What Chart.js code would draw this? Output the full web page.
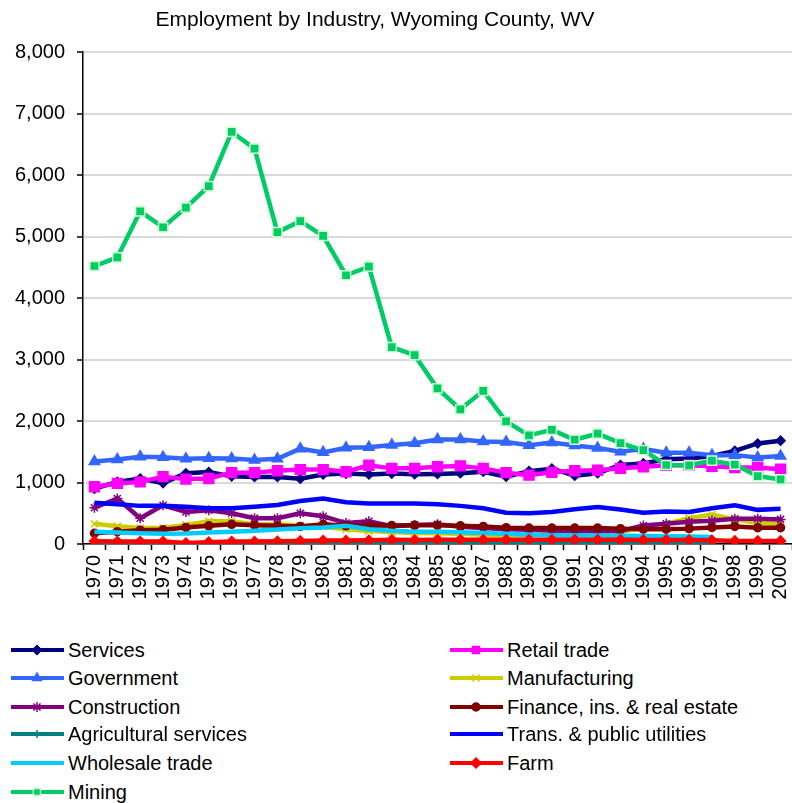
<!DOCTYPE html>
<html>
<head>
<meta charset="utf-8">
<title>Employment by Industry, Wyoming County, WV</title>
<script src="https://cdn.jsdelivr.net/npm/chart.js@4.4.1/dist/chart.umd.min.js"></script>
<style>
  body { margin: 0; background: #fff; font-family: Arial, "Liberation Sans", sans-serif; }
  #wrap { position: relative; width: 792px; height: 803px; overflow: hidden; }
  #title { position: absolute; top: 7px; left: 0; width: 750px; text-align: center; font-size: 21px; line-height: 24px; color: #000; }
  .item { position: absolute; height: 28px; line-height: 28px; font-size: 20px; color: #000; white-space: nowrap; }
  .item canvas { vertical-align: top; margin-right: 3px; }
</style>
</head>
<body>
<div id="wrap">
  <div id="title">Employment by Industry, Wyoming County, WV</div>
  <canvas id="chart" width="792" height="620"></canvas>
  <div id="legend"></div>
</div>
<script>
// Categories
const years = ["1970","1971","1972","1973","1974","1975","1976","1977","1978","1979",
  "1980","1981","1982","1983","1984","1985","1986","1987","1988","1989",
  "1990","1991","1992","1993","1994","1995","1996","1997","1998","1999","2000"];

// Series values (jobs)
const services = [900, 1010, 1065, 990, 1150, 1170, 1100, 1090, 1090, 1060,
  1130, 1145, 1130, 1145, 1135, 1140, 1150, 1175, 1095, 1185,
  1225, 1110, 1150, 1285, 1310, 1380, 1390, 1430, 1515, 1635, 1680];
const retailTrade = [930, 985, 1010, 1095, 1055, 1065, 1160, 1160, 1190, 1210,
  1210, 1175, 1280, 1230, 1230, 1255, 1270, 1230, 1160, 1120,
  1165, 1190, 1200, 1230, 1255, 1280, 1280, 1265, 1245, 1245, 1215];
const government = [1340, 1375, 1420, 1410, 1385, 1395, 1390, 1365, 1385, 1550,
  1490, 1565, 1575, 1610, 1640, 1700, 1700, 1665, 1660, 1605,
  1650, 1600, 1560, 1500, 1545, 1485, 1485, 1445, 1445, 1405, 1430];
const manufacturing = [330, 290, 260, 265, 310, 370, 370, 320, 320, 300,
  280, 240, 210, 195, 180, 175, 165, 150, 140, 145,
  160, 165, 175, 200, 255, 330, 420, 480, 400, 340, 330];
const construction = [590, 740, 420, 630, 520, 550, 500, 420, 420, 500,
  450, 340, 370, 290, 310, 320, 280, 260, 240, 230,
  220, 210, 210, 210, 300, 330, 360, 380, 410, 410, 400];
const finance = [175, 200, 225, 230, 270, 295, 320, 305, 295, 285,
  320, 295, 295, 300, 305, 305, 295, 285, 265, 260,
  260, 260, 260, 250, 240, 240, 250, 270, 285, 265, 265];
const agServices = [10, 10, 10, 10, 10, 10, 12, 12, 12, 12,
  15, 15, 15, 15, 15, 15, 15, 15, 15, 15,
  15, 15, 15, 15, 15, 15, 15, 15, null, null, null];
const transUtilities = [670, 645, 620, 620, 605, 580, 580, 605, 635, 700,
  740, 680, 660, 660, 660, 645, 620, 580, 510, 500,
  520, 565, 600, 560, 510, 530, 520, 580, 630, 555, 575];
const wholesaleTrade = [200, 185, 175, 165, 170, 185, 200, 215, 235, 255,
  270, 295, 240, 215, 200, 200, 190, 180, 165, 150,
  140, 140, 140, 135, 130, 125, 120, 115, null, null, null];
const farm = [45, 40, 40, 40, 15, 30, 40, 40, 45, 50,
  55, 55, 60, 70, 65, 70, 70, 70, 70, 70,
  70, 70, 70, 70, 65, 65, 65, 60, 50, 50, 50];
const mining = [4520, 4660, 5410, 5150, 5470, 5820, 6700, 6430, 5070, 5250,
  5010, 4370, 4510, 3200, 3070, 2530, 2190, 2490, 1995, 1765,
  1855, 1695, 1795, 1640, 1525, 1285, 1280, 1355, 1290, 1105, 1050];

// Series in legend order (row by row, two columns)
const series = [
  { label: "Services", data: services, color: "#000080", style: "rectRot", r: 4.5 },
  { label: "Retail trade", data: retailTrade, color: "#FF00FF", style: "rect", r: 7 },
  { label: "Government", data: government, color: "#3366FF", style: "triangle", r: 6 },
  { label: "Manufacturing", data: manufacturing, color: "#CCCC00", style: "crossRot", r: 5 },
  { label: "Construction", data: construction, color: "#800080", style: "star", r: 5 },
  { label: "Finance, ins. & real estate", data: finance, color: "#800000", style: "circle", r: 4 },
  { label: "Agricultural services", data: agServices, color: "#008080", style: "cross", r: 4 },
  { label: "Trans. & public utilities", data: transUtilities, color: "#0000FF", style: false, r: 0 },
  { label: "Wholesale trade", data: wholesaleTrade, color: "#00CCFF", style: false, r: 0 },
  { label: "Farm", data: farm, color: "#FF0000", style: "rectRot", r: 5 },
  { label: "Mining", data: mining, color: "#00CC66", style: "rect", r: 6.5, edge: "#CCFFCC" }
];

const datasets = series.map((s, i) => ({
  label: s.label,
  data: s.data,
  borderColor: s.color,
  backgroundColor: s.color,
  borderWidth: 4.5,
  tension: 0,
  pointStyle: s.style || "circle",
  pointRadius: s.r,
  pointHoverRadius: s.r,
  pointBackgroundColor: s.color,
  pointBorderColor: s.edge || s.color,
  pointBorderWidth: 1.5,
  spanGaps: false,
  order: series.length - i   // later series drawn on top, like the original
}));

new Chart(document.getElementById("chart"), {
  type: "line",
  data: { labels: years, datasets: datasets },
  options: {
    responsive: false,
    animation: false,
    devicePixelRatio: 1,
    layout: { autoPadding: false, padding: { top: 52, right: 0, bottom: 0, left: 0 } },
    plugins: {
      legend: { display: false },
      title: { display: false },
      tooltip: { enabled: false }
    },
    scales: {
      x: {
        offset: true,
        grid: { drawOnChartArea: false, offset: true, tickLength: 6, tickColor: "#000", tickWidth: 1.5 },
        border: { color: "#000", width: 1.5 },
        ticks: {
          color: "#000", minRotation: 90, maxRotation: 90, autoSkip: false, padding: 5,
          font: { family: "Arial, 'Liberation Sans'", size: 20 }
        },
        afterFit: s => { s.height = 76; s.paddingLeft = 0; s.paddingRight = 0; }
      },
      y: {
        min: 0, max: 8000,
        grid: { color: "#d9d9d9", lineWidth: 2, tickLength: 6, tickColor: "#000", tickWidth: 1.5 },
        border: { color: "#000", width: 1.5 },
        ticks: {
          stepSize: 1000, color: "#000", padding: 12,
          font: { family: "Arial, 'Liberation Sans'", size: 20 },
          callback: v => v.toLocaleString("en-US")
        },
        afterFit: s => { s.width = 83; }
      }
    }
  }
});

// Two-column legend under the chart
const legendRows = [650, 678, 707, 734, 763, 792];
const legendCols = [9, 448];
const legend = document.getElementById("legend");
series.forEach((s, i) => {
  const item = document.createElement("div");
  item.className = "item";
  item.style.left = legendCols[i % 2] + "px";
  item.style.top = (legendRows[Math.floor(i / 2)] - 14) + "px";
  const c = document.createElement("canvas");
  c.width = 56; c.height = 28;
  const ctx = c.getContext("2d");
  ctx.strokeStyle = s.color;
  ctx.lineWidth = 4;
  ctx.beginPath(); ctx.moveTo(2, 14); ctx.lineTo(55, 14); ctx.stroke();
  if (s.style && Chart.helpers && Chart.helpers.drawPoint) {
    ctx.fillStyle = s.color;
    ctx.strokeStyle = s.edge || s.color;
    ctx.lineWidth = 1.5;
    Chart.helpers.drawPoint(ctx, { pointStyle: s.style, radius: Math.min(s.r, 5), rotation: 0, borderWidth: 1.5 }, 28, 14);
  }
  item.appendChild(c);
  const t = document.createElement("span");
  t.textContent = s.label;
  item.appendChild(t);
  legend.appendChild(item);
});
</script>
</body>
</html>
